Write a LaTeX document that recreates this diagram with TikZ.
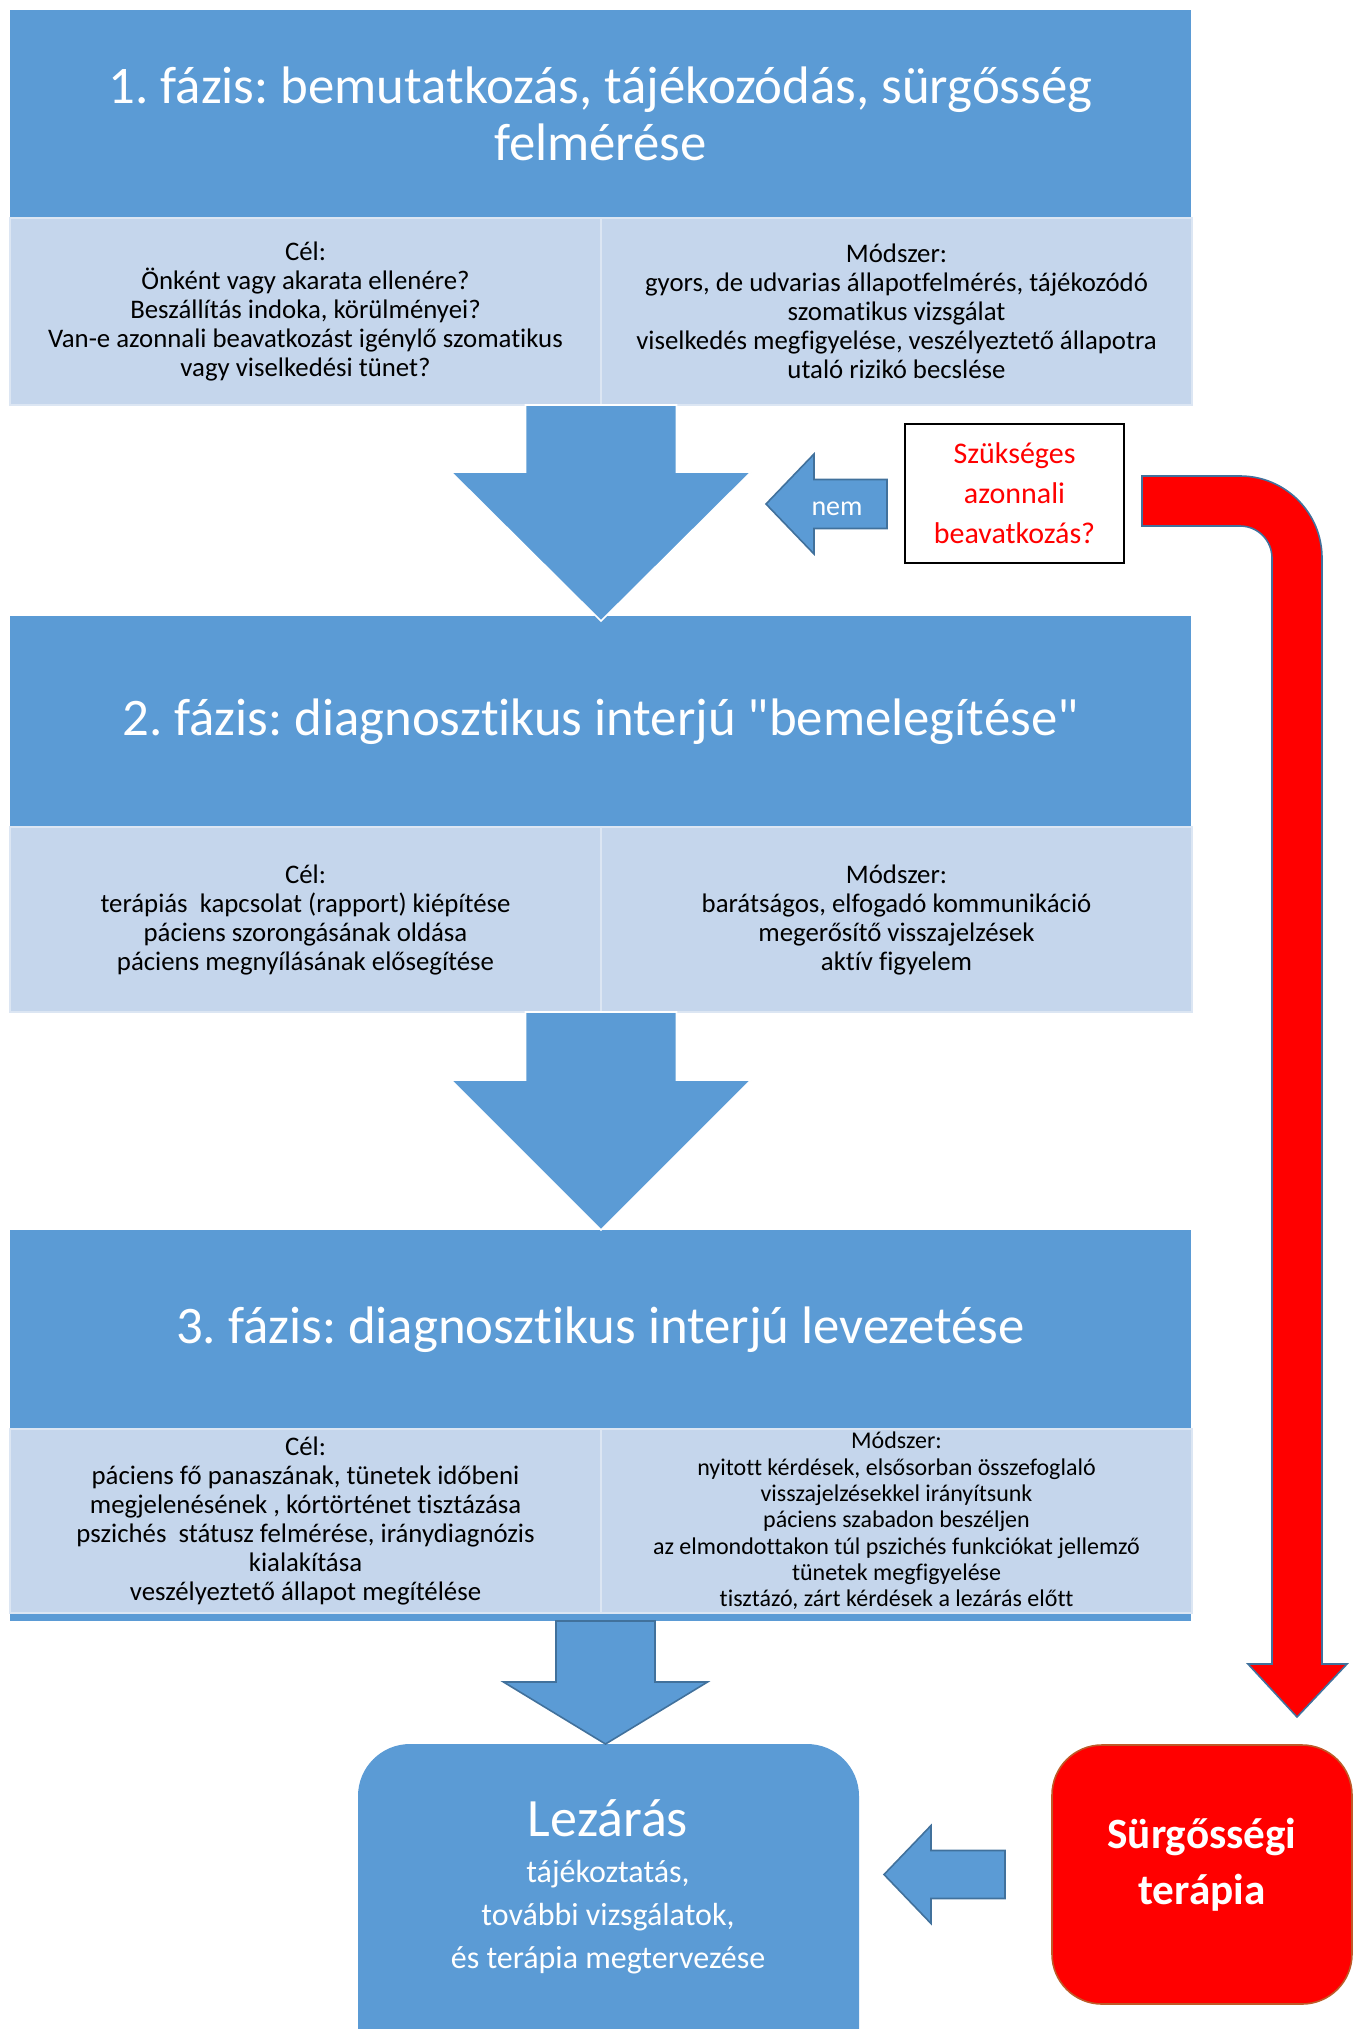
\documentclass[tikz,border=0pt]{standalone}
\usepackage{fontspec}
\setmainfont{Carlito}[Ligatures={NoCommon,TeXOff}]
\frenchspacing
\usetikzlibrary{calc}
\definecolor{hblue}{HTML}{5B9BD5}
\definecolor{lblue}{HTML}{C5D6EC}
\definecolor{cellline}{HTML}{DCE6F3}
\definecolor{dblue}{HTML}{41719C}
\definecolor{brd}{RGB}{190,90,40}
% vertical block arrow: style, start, tip, stem half width, head half width, head length
\newcommand\bdarrow[6]{\draw[#1] let \p1=#2, \p2=#3 in (\x1-#4,\y1) -- (\x1-#4,\y2+#6) -- (\x1-#5,\y2+#6) -- (\x1,\y2) -- (\x1+#5,\y2+#6) -- (\x1+#4,\y2+#6) -- (\x1+#4,\y1) -- cycle;}
% leftward block arrow: style, right end, tip, shaft half width, head half width, head length
\newcommand\blarrow[6]{\draw[#1] let \p1=#2, \p2=#3 in (\x1,\y2-#4) -- (\x2+#6,\y2-#4) -- (\x2+#6,\y2-#5) -- (\x2,\y2) -- (\x2+#6,\y2+#5) -- (\x2+#6,\y2+#4) -- (\x1,\y2+#4) -- cycle;}
\begin{document}
\begin{tikzpicture}[x=0.5pt,y=-0.5pt,
  every node/.style={inner sep=0pt,outer sep=0pt},
  header/.style={fill=hblue,minimum width=590.5pt,text=white,align=center,font=\fontsize{26.4}{28.5}\selectfont},
  cell/.style={fill=lblue,draw=cellline,line width=0.75pt,minimum width=295.5pt,align=center,font=\fontsize{13.4}{14.5}\selectfont},
  blockarrow/.style={fill=hblue,draw=dblue,line width=0.8pt,line join=miter},
  mainarrow/.style={fill=hblue,draw=white,line width=0.8pt,line join=miter},
  qbox/.style={draw=black,line width=0.6pt,fill=white,minimum width=109.5pt,minimum height=69.5pt,align=center,text=red,font=\fontsize{15}{20}\selectfont},
  endbox/.style={fill=hblue,rounded corners=26pt,minimum width=250.5pt,minimum height=178pt},
  emergbox/.style={fill=red,draw=brd,line width=0.8pt,rounded corners=25pt,minimum width=150pt,minimum height=129.5pt}
]
\useasboundingbox (0,0) rectangle (1354,2029);
\clip (0,0) rectangle (1354,2029);

% Phase 1
\node[header,minimum height=104pt] (h1) at (600.5,114) {1. fázis: bemutatkozás, tájékozódás, sürgősség\\felmérése};
\node[cell,minimum height=93.5pt] (c1l) at (305.5,311.5) {Cél:\\Önként vagy akarata ellenére?\\Beszállítás indoka, körülményei?\\Van-e azonnali beavatkozást igénylő szomatikus\\vagy viselkedési tünet?};
\node[cell,minimum height=93.5pt] (c1r) at (896.5,311.5) {Módszer:\\gyors, de udvarias állapotfelmérés, tájékozódó\\szomatikus vizsgálat\\viselkedés megfigyelése, veszélyeztető állapotra\\utaló rizikó becslése};

% Phase 2
\node[header,minimum height=105.5pt] (h2) at (600.5,721.5) {2. fázis: diagnosztikus interjú "bemelegítése"};
\node[cell,minimum height=92.5pt] (c2l) at (305.5,919.5) {Cél:\\terápiás\ \ kapcsolat (rapport) kiépítése\\páciens szorongásának oldása\\páciens megnyílásának elősegítése};
\node[cell,minimum height=92.5pt] (c2r) at (896.5,919.5) {Módszer:\\barátságos, elfogadó kommunikáció\\megerősítő visszajelzések\\aktív figyelem};

% Phase 3
\fill[hblue] (10,1590) rectangle (1191,1621);
\node[header,minimum height=99.5pt] (h3) at (600.5,1329.5) {3. fázis: diagnosztikus interjú levezetése};
\node[cell,minimum height=92pt] (c3l) at (305.5,1521) {Cél:\\páciens fő panaszának, tünetek időbeni\\megjelenésének , kórtörténet tisztázása\\pszichés\ \ státusz felmérése, iránydiagnózis\\kialakítása\\veszélyeztető állapot megítélése};
\node[cell,minimum height=92pt,font=\fontsize{12}{13.15}\selectfont] (c3r) at (896.5,1521) {Módszer:\\nyitott kérdések, elsősorban összefoglaló\\visszajelzésekkel irányítsunk\\páciens szabadon beszéljen\\az elmondottakon túl pszichés funkciókat jellemző\\tünetek megfigyelése\\tisztázó, zárt kérdések a lezárás előtt};

% main arrows
\bdarrow{mainarrow}{(c1l.south east)}{($(h2.north)+(0.5,5)$)}{37.75pt}{75pt}{74.5pt}
\bdarrow{mainarrow}{(c2l.south east)}{($(h3.north)+(0.5,0)$)}{37.75pt}{75pt}{75pt}

% closing box
\node[endbox] (lez) at (608.5,1922) {};
\node[text=white,font=\fontsize{27}{28}\selectfont] (lezt) at (608,1818) {Lezárás};
\node[text=white,align=center,font=\fontsize{16}{21.5}\selectfont] (lezs) at (608,1917) {tájékoztatás,\\további vizsgálatok,\\és terápia megtervezése};
\bdarrow{blockarrow}{($(c3l.south east)+(4.5,8)$)}{(605.5,1744)}{24.75pt}{51pt}{31pt}

% question box and "nem" arrow
\node[qbox] (q) at (1014.5,493.5) {Szükséges\\azonnali\\beavatkozás?};
\coordinate (nemtip) at (766,504);
\blarrow{blockarrow}{($(q.west)+(-18,0)$)}{(nemtip)}{12.25pt}{25pt}{24pt}
\node[text=white,font=\fontsize{14}{16}\selectfont] (nem) at (837,509) {nem};

% emergency box
\node[emergbox] (sg) at (1202,1874.5) {};
\node[text=white,align=center,font=\bfseries\fontsize{21.6}{28}\selectfont] (sgt) at (1202,1865) {Sürgősségi\\terápia};
\blarrow{blockarrow}{($(sg.west)+(-47,0)$)}{($(lez.east |- sg.west)+(25,0)$)}{12pt}{24.5pt}{23.5pt}

% red bent arrow
\draw[fill=red,draw=dblue,line width=0.8pt,line join=miter]
  (1142,476) -- (1240,476) .. controls (1285.3,476) and (1322,512.7) .. (1322,558)
  -- (1322,1664) -- (1347,1664) -- (1297,1717) -- (1248,1664) -- (1272,1664)
  -- (1272,558) .. controls (1272,540.3) and (1257.7,526) .. (1240,526)
  -- (1142,526) -- cycle;
\end{tikzpicture}
\end{document}
